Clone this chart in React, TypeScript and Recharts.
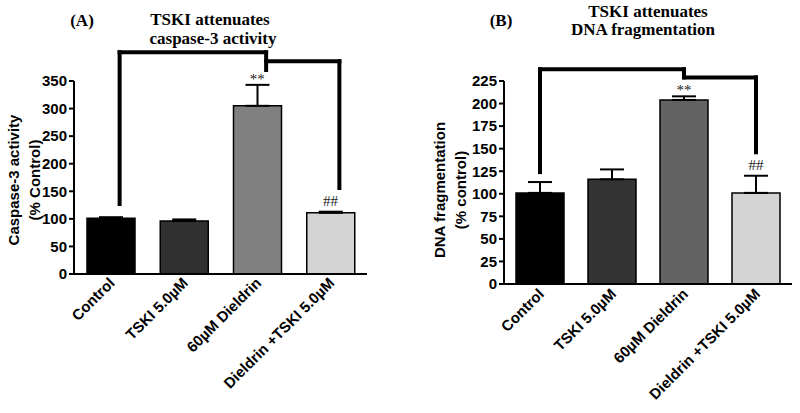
import React from 'react';
import { BarChart, Bar, XAxis, YAxis, Cell, ErrorBar, ReferenceLine, ReferenceDot } from 'recharts';

const categories = ['Control', 'TSKI 5.0µM', '60µM Dieldrin', 'Dieldrin +TSKI 5.0µM'];
const caspaseValues = [101, 96, 305, 111];
const caspaseErrors = [2, 3, 38, 2];
const dnaValues = [101, 116, 204, 101];
const dnaErrors = [12, 11, 4, 19];
const caspaseColors = ['#000000', '#303030', '#808080', '#d4d4d4'];
const dnaColors = ['#000000', '#333333', '#636363', '#d4d4d4'];
const caspaseTicks = [0, 50, 100, 150, 200, 250, 300, 350];
const dnaTicks = [0, 25, 50, 75, 100, 125, 150, 175, 200, 225];
const marks = ['', '', '**', '##'];
// bracket levels, in data units of each panel
const caspaseBracket = { left: 127, top: 402, step: 386, stepTick: 370, right: 156 };
const dnaBracket = { left: 124, top: 238, step: 229, stepTick: 229, right: 146 };

const SANS = '"Liberation Sans", Arial, sans-serif';
const SERIF = '"Liberation Serif", "Times New Roman", serif';

const makeTick = (dx: number, dy: number) => (props: any) => {
  const { x, y, payload } = props;
  return (
    <g transform={`translate(${x + dx},${y + dy})`}>
      <text textAnchor="end" transform="rotate(-45)" fontFamily={SANS} fontWeight="bold" fontSize={15} fill="#000">
        {payload.value}
      </text>
    </g>
  );
};

const offsetLine = (dx: number) => (p: any) => (
  <line x1={p.x1 + dx} y1={p.y1} x2={p.x2 + dx} y2={p.y2} stroke="#000" strokeWidth={4} strokeLinecap="square" />
);

type PanelProps = {
  values: number[];
  errors: number[];
  colors: string[];
  ticks: number[];
  bracket: { left: number; top: number; step: number; stepTick: number; right: number };
  bracketDx: number;
  margin: { top: number; right: number; bottom: number; left: number };
  xHeight: number;
  tickDx: number;
  tickDy: number;
};

const Panel = ({ values, errors, colors, ticks, bracket, bracketDx, margin, xHeight, tickDx, tickDy }: PanelProps) => {
  const data = categories.map((name, i) => ({ name, value: values[i], err: [0, errors[i]] }));
  const shape = offsetLine(bracketDx);
  const c = categories;
  return (
    <BarChart width={400} height={413} data={data} margin={margin} barSize={48}>
      <XAxis
        dataKey="name"
        interval={0}
        tickLine={false}
        tickSize={0}
        tickMargin={0}
        height={xHeight}
        axisLine={{ stroke: '#000', strokeWidth: 2 }}
        tick={makeTick(tickDx, tickDy)}
      />
      <YAxis
        domain={[0, ticks[ticks.length - 1]]}
        ticks={ticks}
        interval={0}
        width={44}
        tickSize={5}
        tickMargin={2}
        axisLine={{ stroke: '#000', strokeWidth: 2 }}
        tickLine={{ stroke: '#000', strokeWidth: 2 }}
        tick={{ fill: '#000', fontFamily: SANS, fontWeight: 'bold', fontSize: 15 }}
      />
      <Bar dataKey="value" stroke="#000" strokeWidth={1.5} isAnimationActive={false}>
        {data.map((d, i) => (
          <Cell key={d.name} fill={colors[i]} />
        ))}
        <ErrorBar dataKey="err" width={12} stroke="#000" strokeWidth={2} isAnimationActive={false} />
      </Bar>
      <ReferenceLine ifOverflow="visible" shape={shape} segment={[{ x: c[0], y: bracket.left }, { x: c[0], y: bracket.top }]} />
      <ReferenceLine ifOverflow="visible" shape={shape} segment={[{ x: c[0], y: bracket.top }, { x: c[2], y: bracket.top }]} />
      <ReferenceLine ifOverflow="visible" shape={shape} segment={[{ x: c[2], y: bracket.top }, { x: c[2], y: bracket.stepTick }]} />
      <ReferenceLine ifOverflow="visible" shape={shape} segment={[{ x: c[2], y: bracket.step }, { x: c[3], y: bracket.step }]} />
      <ReferenceLine ifOverflow="visible" shape={shape} segment={[{ x: c[3], y: bracket.step }, { x: c[3], y: bracket.right }]} />
      {data.map((d, i) =>
        marks[i] ? (
          <ReferenceDot
            key={'m' + i}
            x={d.name}
            y={values[i] + errors[i]}
            r={1}
            fill="none"
            stroke="none"
            ifOverflow="visible"
            label={{
              value: marks[i],
              position: 'top',
              offset: marks[i] === '**' ? 0 : 5,
              fill: '#222',
              fontSize: 15,
              fontFamily: SERIF,
            }}
          />
        ) : null
      )}
    </BarChart>
  );
};

export default function App() {
  const titleStyle = { fontFamily: SERIF, fontWeight: 'bold' as const, fontSize: 17, fill: '#000' };
  const labelStyle = { fontFamily: SANS, fontWeight: 'bold' as const, fontSize: 15, fill: '#000' };
  return (
    <div style={{ position: 'absolute', left: 0, top: 0, width: 800, height: 413, background: '#fff' }}>
      <div style={{ position: 'absolute', left: 0, top: 0 }}>
        <Panel
          values={caspaseValues}
          errors={caspaseErrors}
          colors={caspaseColors}
          ticks={caspaseTicks}
          bracket={caspaseBracket}
          bracketDx={9}
          margin={{ top: 81, right: 33, bottom: 19, left: 30 }}
          xHeight={120}
          tickDx={5}
          tickDy={10}
        />
      </div>
      <div style={{ position: 'absolute', left: 400, top: 0 }}>
        <Panel
          values={dnaValues}
          errors={dnaErrors}
          colors={dnaColors}
          ticks={dnaTicks}
          bracket={dnaBracket}
          bracketDx={0}
          margin={{ top: 81, right: 8, bottom: 19, left: 60 }}
          xHeight={110}
          tickDx={5}
          tickDy={11}
        />
      </div>
      <svg width={800} height={413} style={{ position: 'absolute', left: 0, top: 0, pointerEvents: 'none' }}>
        <text x={82} y={26} textAnchor="middle" {...titleStyle}>(A)</text>
        <text x={210} y={25} textAnchor="middle" {...titleStyle}>TSKI attenuates</text>
        <text x={213} y={44} textAnchor="middle" {...titleStyle}>caspase-3 activity</text>
        <text x={501} y={26} textAnchor="middle" {...titleStyle}>(B)</text>
        <text x={648} y={17} textAnchor="middle" {...titleStyle}>TSKI attenuates</text>
        <text x={643} y={35} textAnchor="middle" {...titleStyle}>DNA fragmentation</text>
        <text transform="translate(13,180) rotate(-90)" textAnchor="middle" dominantBaseline="central" {...labelStyle}>Caspase-3 activity</text>
        <text transform="translate(34,180) rotate(-90)" textAnchor="middle" dominantBaseline="central" {...labelStyle}>(% Control)</text>
        <text transform="translate(439,190) rotate(-90)" textAnchor="middle" dominantBaseline="central" {...labelStyle}>DNA fragmentation</text>
        <text transform="translate(460,190) rotate(-90)" textAnchor="middle" dominantBaseline="central" {...labelStyle}>(% control)</text>
      </svg>
    </div>
  );
}
